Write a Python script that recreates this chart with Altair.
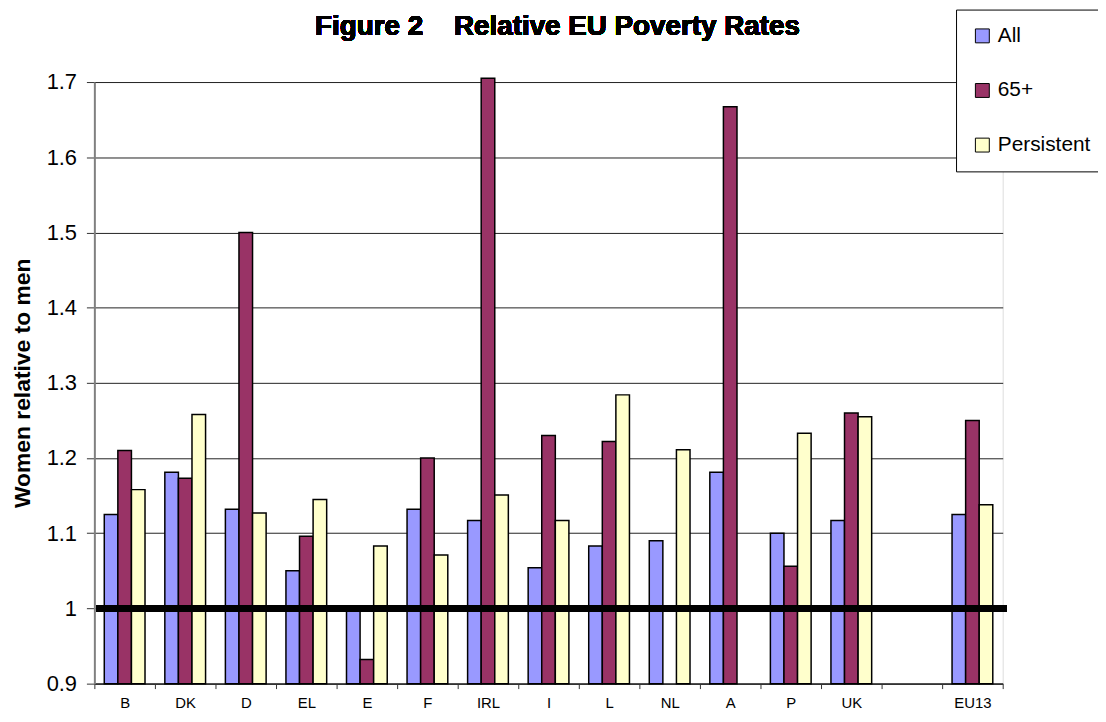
import altair as alt
import pandas as pd

countries = ["B", "DK", "D", "EL", "E", "F", "IRL", "I", "L", "NL", "A", "P", "UK", " ", "EU13"]
series = ["All", "65+", "Persistent"]
colors = ["#9999FF", "#993366", "#FFFFCC"]

all_vals = [1.125, 1.181, 1.132, 1.050, 1.000, 1.132, 1.117, 1.054, 1.083, 1.090, 1.181, 1.100, 1.117, None, 1.125]
old_vals = [1.210, 1.173, 1.500, 1.096, 0.932, 1.200, 1.705, 1.230, 1.222, None, 1.667, 1.056, 1.260, None, 1.250]
pers_vals = [1.158, 1.258, 1.127, 1.145, 1.083, 1.071, 1.151, 1.117, 1.284, 1.211, None, 1.233, 1.255, None, 1.138]

y_ticks = [0.9, 1.0, 1.1, 1.2, 1.3, 1.4, 1.5, 1.6, 1.7]
title_text = "Figure 2\u00a0\u00a0\u00a0 Relative EU Poverty Rates"
y_title = "Women relative to men"

rows = []
for s, vals in zip(series, [all_vals, old_vals, pers_vals]):
    for c, v in zip(countries, vals):
        if v is not None:
            rows.append({"country": c, "series": s, "value": v})
df = pd.DataFrame(rows)

FONT = "Liberation Sans"
W, H = 915, 606

bars = alt.Chart(df).mark_bar(stroke="black", strokeWidth=1.5).encode(
    x=alt.X(
        "country:N",
        sort=countries,
        scale=alt.Scale(domain=countries, paddingInner=0, paddingOuter=0),
        axis=alt.Axis(
            title=None, labelAngle=0, tickBand="extent", labelFont=FONT,
            labelFontSize=15, labelColor="black", tickSize=5, tickColor="#333",
            labelPadding=7, domainColor="#333", domainWidth=2, grid=False,
        ),
    ),
    xOffset=alt.XOffset("series:N", sort=series,
                        scale=alt.Scale(domain=series, paddingInner=0, paddingOuter=0.73)),
    y=alt.Y(
        "value:Q",
        scale=alt.Scale(domain=[0.9, 1.7], zero=False, nice=False),
        axis=alt.Axis(
            title=y_title, values=y_ticks, format=".1~f", labelFont=FONT,
            labelFontSize=22, labelColor="black", tickSize=8, tickColor="#333",
            labelPadding=10, domainColor="#808080", domainWidth=2,
            grid=True, gridColor="#222", gridWidth=1,
            titleFont=FONT, titleFontSize=23, titleFontWeight="bold",
            titleColor="black", titlePadding=12,
        ),
    ),
    y2=alt.datum(0.9),
    fill=alt.Fill(
        "series:N",
        sort=series,
        scale=alt.Scale(domain=series, range=colors),
        legend=alt.Legend(
            title=None, orient="none", legendX=868, legendY=-73,
            direction="vertical", strokeColor="black", fillColor="white",
            padding=16, symbolType="square", symbolSize=196,
            symbolStrokeColor="black", symbolStrokeWidth=1,
            labelFont=FONT, labelFontSize=21, labelColor="black",
            labelOffset=5, rowPadding=33,
        ),
    ),
)

ref_line = alt.Chart(df).mark_rule(color="black", strokeWidth=6).encode(
    y=alt.datum(1.0),
    x=alt.value(2),
    x2=alt.value(919),
)

title = alt.Chart(df).mark_text(
    font=FONT, fontWeight="bold", fontSize=28, align="center",
    baseline="alphabetic", color="black",
).encode(
    x=alt.value(466.5),
    y=alt.value(-47),
    text=alt.value(title_text),
)

chart = alt.layer(bars, ref_line, title).properties(
    width=W, height=H,
    autosize=alt.AutoSizeParams(type="none"),
    padding={"left": 87, "top": 72, "right": 96, "bottom": 28},
).configure_view(stroke="#808080", strokeWidth=1.5).configure(background="white")

chart.save("out.html", embed_options={"renderer": "svg", "actions": False})
